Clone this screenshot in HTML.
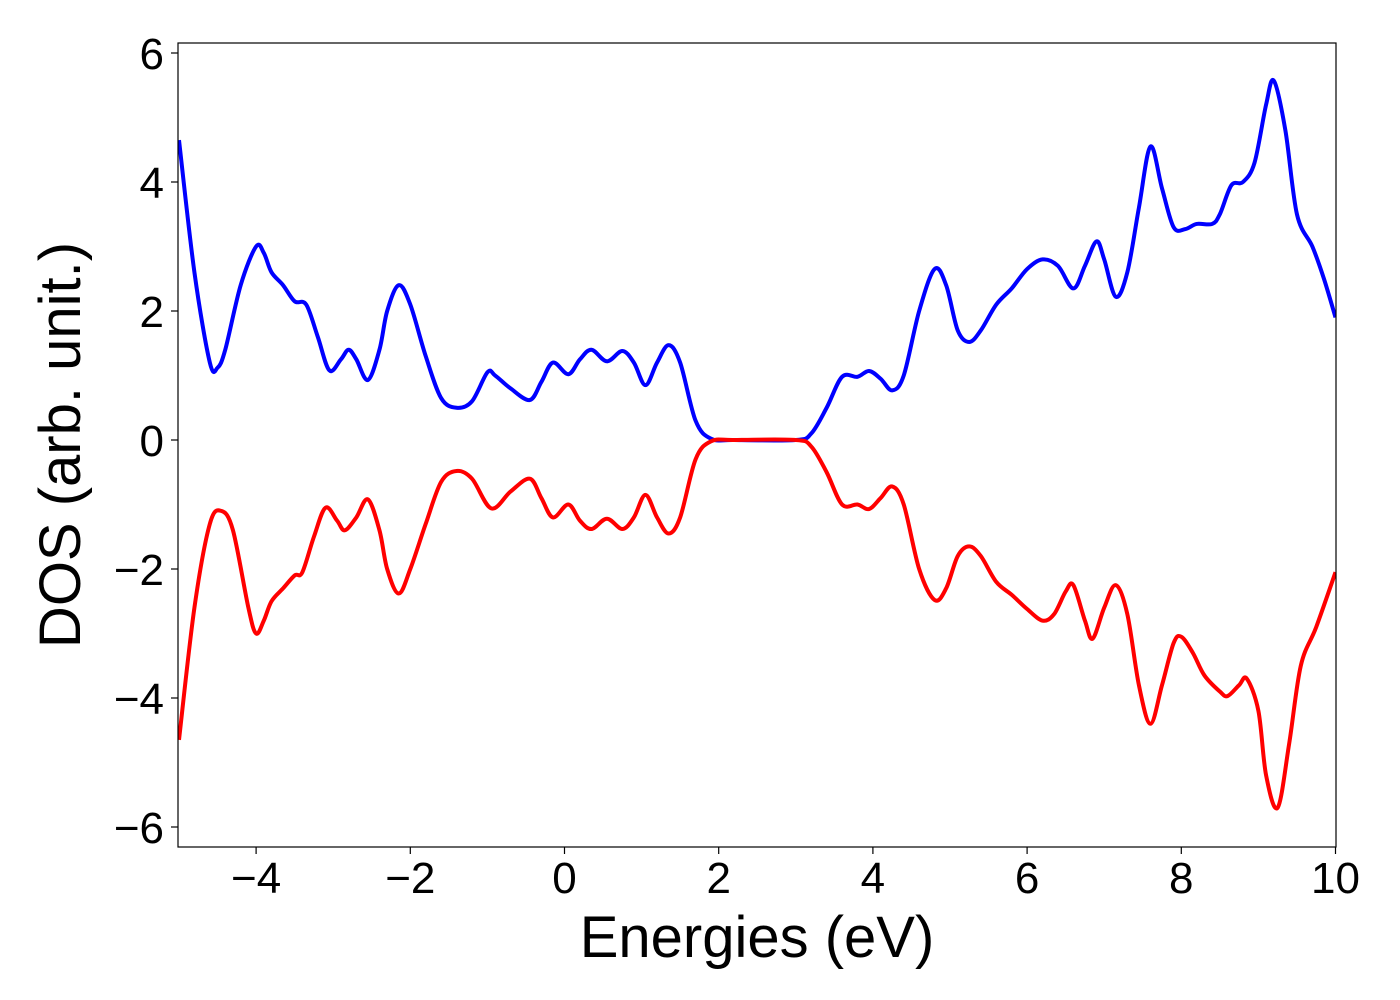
<!DOCTYPE html>
<html><head><meta charset="utf-8">
<style>
html,body{margin:0;padding:0;background:#fff;}
svg{display:block;font-family:"Liberation Sans","DejaVu Sans",sans-serif;}
</style></head>
<body>
<svg id="chart" width="1400" height="1000">
  <rect x="178" y="43" width="1158" height="804" fill="#fff"/>
  <clipPath id="clip"><rect x="178" y="43" width="1158" height="804"/></clipPath>
  <g id="series" clip-path="url(#clip)"></g>
  <rect x="178" y="43" width="1158" height="804" fill="none" stroke="#000" stroke-width="1.2"/>
  <g id="xticks"></g>
  <g id="yticks"></g>
  <text x="757" y="957" font-size="58" text-anchor="middle">Energies (eV)</text>
  <text transform="translate(80,445) rotate(-90)" font-size="58" text-anchor="middle">DOS (arb. unit.)</text>
</svg>
<script>
const xTickValues=[-4,-2,0,2,4,6,8,10];
const yTickValues=[-6,-4,-2,0,2,4,6];
const upX=[-5,-4.8,-4.6,-4.5,-4.4,-4.2,-4,-3.9,-3.8,-3.65,-3.5,-3.35,-3.2,-3.05,-2.9,-2.8,-2.7,-2.55,-2.4,-2.3,-2.15,-2,-1.8,-1.6,-1.4,-1.2,-1,-0.9,-0.7,-0.45,-0.3,-0.15,0.05,0.2,0.35,0.55,0.75,0.9,1.05,1.2,1.35,1.5,1.7,1.9,2.2,3,3.2,3.4,3.6,3.8,3.95,4.1,4.25,4.4,4.6,4.8,4.95,5.1,5.25,5.4,5.6,5.8,6,6.2,6.4,6.6,6.75,6.9,7,7.15,7.3,7.45,7.6,7.75,7.9,8.05,8.2,8.4,8.5,8.65,8.8,8.95,9.1,9.2,9.35,9.5,9.7,9.85,10];
const upY=[4.65,2.6,1.2,1.12,1.4,2.4,3.0,2.9,2.6,2.4,2.15,2.1,1.6,1.08,1.25,1.4,1.25,0.93,1.4,2.0,2.4,2.1,1.3,0.65,0.5,0.6,1.05,1.0,0.8,0.62,0.9,1.2,1.02,1.25,1.4,1.22,1.38,1.2,0.85,1.2,1.47,1.2,0.3,0.02,0,0,0.1,0.5,0.98,0.98,1.07,0.95,0.77,1.0,2.0,2.65,2.4,1.7,1.52,1.7,2.1,2.35,2.65,2.8,2.7,2.35,2.7,3.08,2.8,2.22,2.6,3.6,4.55,3.9,3.3,3.27,3.35,3.35,3.5,3.95,4.0,4.3,5.2,5.57,4.8,3.5,3.0,2.5,1.9];
const downX=[-5,-4.8,-4.6,-4.45,-4.3,-4.1,-4,-3.9,-3.8,-3.65,-3.5,-3.4,-3.25,-3.1,-2.95,-2.85,-2.7,-2.55,-2.4,-2.3,-2.15,-2,-1.8,-1.6,-1.4,-1.2,-0.95,-0.7,-0.45,-0.3,-0.15,0.05,0.2,0.35,0.55,0.75,0.9,1.05,1.2,1.35,1.5,1.7,1.9,2.2,3,3.2,3.4,3.6,3.8,3.95,4.1,4.25,4.4,4.6,4.8,4.95,5.1,5.25,5.4,5.6,5.8,6,6.2,6.35,6.5,6.6,6.75,6.85,7,7.15,7.3,7.45,7.6,7.75,7.9,8,8.15,8.3,8.5,8.6,8.75,8.85,9,9.1,9.25,9.4,9.55,9.75,10];
const downY=[-4.65,-2.6,-1.3,-1.1,-1.4,-2.6,-3.0,-2.8,-2.5,-2.3,-2.1,-2.05,-1.5,-1.05,-1.25,-1.4,-1.2,-0.92,-1.4,-2.0,-2.38,-2.0,-1.3,-0.65,-0.48,-0.6,-1.06,-0.8,-0.6,-0.9,-1.2,-1.0,-1.25,-1.38,-1.22,-1.38,-1.2,-0.85,-1.2,-1.45,-1.2,-0.3,-0.02,0,0,-0.1,-0.5,-1.0,-1.0,-1.07,-0.9,-0.72,-1.0,-2.0,-2.48,-2.3,-1.8,-1.65,-1.8,-2.2,-2.4,-2.62,-2.8,-2.7,-2.35,-2.25,-2.8,-3.08,-2.6,-2.25,-2.7,-3.8,-4.4,-3.8,-3.15,-3.05,-3.3,-3.65,-3.9,-3.97,-3.8,-3.7,-4.2,-5.2,-5.7,-4.7,-3.5,-2.9,-2.05];
const NS='http://www.w3.org/2000/svg';
const X0=179,XS=77.1,Y0=440,YS=64.5;
function sx(v){return X0+(v+5)*XS;}
function sy(v){return Y0-v*YS;}
function pathFor(xs,ys){
  const p=xs.map((x,i)=>[sx(x),sy(ys[i])]);
  let d='M'+p[0][0]+','+p[0][1];
  for(let i=0;i<p.length-1;i++){
    const a=p[Math.max(i-1,0)],b=p[i],c=p[i+1],e=p[Math.min(i+2,p.length-1)];
    const c1x=b[0]+(c[0]-a[0])/6,c1y=b[1]+(c[1]-a[1])/6;
    const c2x=c[0]-(e[0]-b[0])/6,c2y=c[1]-(e[1]-b[1])/6;
    d+=' C'+c1x+','+c1y+' '+c2x+','+c2y+' '+c[0]+','+c[1];
  }
  return d;
}
const g=document.getElementById('series');
const up=document.createElementNS(NS,'path');
up.setAttribute('d',pathFor(upX,upY));up.setAttribute('fill','none');up.setAttribute('stroke','#0000ff');up.setAttribute('stroke-width','4');


g.appendChild(up);
const dn=document.createElementNS(NS,'path');
dn.setAttribute('d',pathFor(downX,downY));dn.setAttribute('fill','none');dn.setAttribute('stroke','#ff0000');dn.setAttribute('stroke-width','4');


g.appendChild(dn);
const xt=document.getElementById('xticks');
xTickValues.forEach(v=>{
  const l=document.createElementNS(NS,'line');
  l.setAttribute('x1',sx(v));l.setAttribute('x2',sx(v));l.setAttribute('y1',847);l.setAttribute('y2',854);l.setAttribute('stroke','#000');l.setAttribute('stroke-width','1.2');
  
  
  xt.appendChild(l);
  const t=document.createElementNS(NS,'text');
  t.setAttribute('x',sx(v));t.setAttribute('y',893);t.setAttribute('font-size','44');t.setAttribute('text-anchor','middle');
  t.textContent=(v<0?'\u2212':'')+Math.abs(v);
  
  
  xt.appendChild(t);
});
const yt=document.getElementById('yticks');
yTickValues.forEach(v=>{
  const l=document.createElementNS(NS,'line');
  l.setAttribute('x1',171);l.setAttribute('x2',178);l.setAttribute('y1',sy(v));l.setAttribute('y2',sy(v));l.setAttribute('stroke','#000');l.setAttribute('stroke-width','1.2');
  
  
  yt.appendChild(l);
  const t=document.createElementNS(NS,'text');
  t.setAttribute('x',164);t.setAttribute('y',sy(v)+16);t.setAttribute('font-size','44');t.setAttribute('text-anchor','end');
  t.textContent=(v<0?'\u2212':'')+Math.abs(v);
  
  
  yt.appendChild(t);
});
</script>
</body></html>
